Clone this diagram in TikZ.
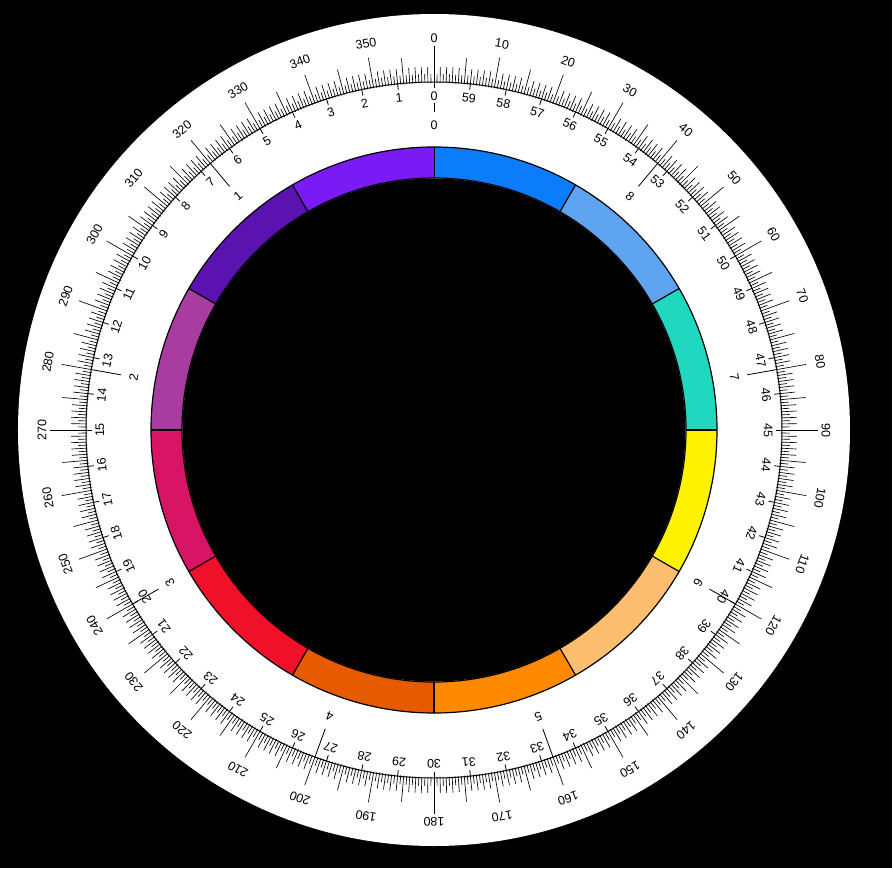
\documentclass[tikz,border=0pt]{standalone}
\usepackage{fontspec}
\setmainfont{Liberation Sans}
\definecolor{segA}{HTML}{0B7DFA}
\definecolor{segB}{HTML}{5EA4F0}
\definecolor{segC}{HTML}{20D8C0}
\definecolor{segD}{HTML}{FFF200}
\definecolor{segE}{HTML}{FDBF6F}
\definecolor{segF}{HTML}{FF8A00}
\definecolor{segG}{HTML}{E65A00}
\definecolor{segH}{HTML}{F0102A}
\definecolor{segI}{HTML}{D81565}
\definecolor{segJ}{HTML}{A83CA0}
\definecolor{segK}{HTML}{5A12B0}
\definecolor{segL}{HTML}{7A1AF5}
\begin{document}
\begin{tikzpicture}[
  lbl/.style={font=\fontsize{12.5}{12.5}\selectfont, inner sep=0pt, text=black},
  tickline/.style={line width=0.8pt, black},
  segline/.style={line width=1.2pt, black}]
\fill[black] (-434pt,-438pt) rectangle (458pt,430pt);
\useasboundingbox (-434pt,-438pt) rectangle (458pt,430pt);
\fill[white] (0,0) circle (416pt);
% colour ring
\foreach \i/\c in {0/segA,1/segB,2/segC,3/segD,4/segE,5/segF,6/segG,7/segH,8/segI,9/segJ,10/segK,11/segL}{
  \pgfmathsetmacro\sa{90-30*\i}
  \pgfmathsetmacro\ea{60-30*\i}
  \fill[\c] (\sa:283pt) arc[start angle=\sa, end angle=\ea, radius=283pt]
     -- (\ea:252pt) arc[start angle=\ea, end angle=\sa, radius=252pt] -- cycle;
  \draw[segline] (\sa:252pt) -- (\sa:283pt);
}
\draw[segline] (0,0) circle (283pt);
\draw[segline] (0,0) circle (252pt);
\fill[black] (0,0) circle (251.5pt);
% degree ticks
\foreach \k in {0,...,719}{
  \pgfmathsetmacro\tOut{ifthenelse(mod(\k,180)==0,384,ifthenelse(mod(\k,20)==0,378,ifthenelse(mod(\k,10)==0,373,ifthenelse(mod(\k,2)==0,363,356))))}
  \pgfmathsetmacro\tIn{ifthenelse(mod(\k,180)==0,343,347)}
  \pgfmathsetmacro\ang{90-\k/2}
  \draw[tickline, line width=0.65pt] (\ang:\tIn pt) -- (\ang:\tOut pt);
}
\draw[line width=1pt] (0,0) circle (348pt);
% degree labels
\foreach \d in {0,10,...,350}{
  \node[lbl, rotate=-\d] (deg\d) at ({90-\d}:392pt) {\d};
}
% minute scale
\foreach \m in {0,...,59}{
  \draw[tickline] ({90+6*\m}:348pt) -- ({90+6*\m}:342pt);
  \node[lbl, rotate=6*\m] (min\m) at ({90+6*\m}:334pt) {\m};
}
% nine-part scale
\foreach \n in {0,...,8}{
  \pgfmathsetmacro\nIn{ifthenelse(\n==0,327,348)}
  \draw[tickline] ({90+40*\n}:\nIn pt) -- ({90+40*\n}:318pt);
  \node[lbl, rotate=40*\n] (non\n) at ({90+40*\n}:305pt) {\n};
}
\end{tikzpicture}
\end{document}
